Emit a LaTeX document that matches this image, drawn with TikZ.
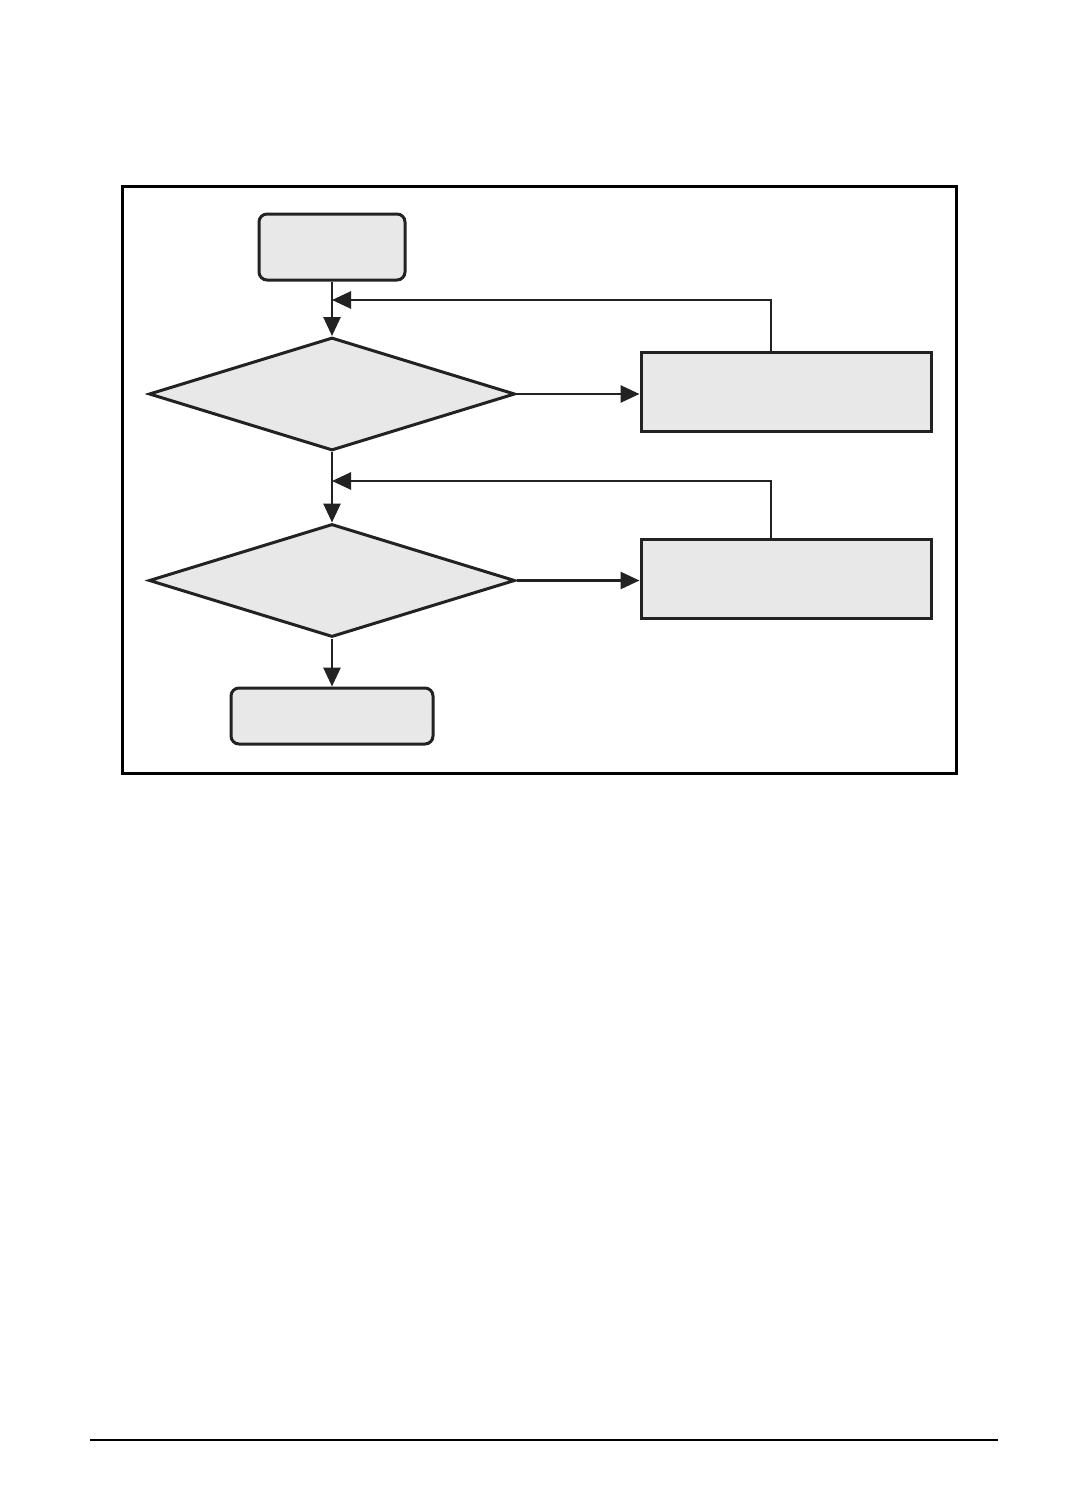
\documentclass[tikz,border=0pt]{standalone}
\usetikzlibrary{shapes.geometric,arrows.meta}
\definecolor{boxfill}{HTML}{E8E8E8}
\definecolor{ink}{HTML}{222222}
\begin{document}
\begin{tikzpicture}[x=1pt,y=-1pt,
  base/.style={draw=ink,fill=boxfill,line width=3pt,inner sep=0pt},
  roundbox/.style={base,rectangle,rounded corners=8pt},
  plainbox/.style={base,rectangle},
  decision/.style={base,diamond,aspect=3.24},
  arr/.style={draw=ink,line width=2.8pt,-{Triangle[length=19pt,width=17pt]}},
  ln/.style={draw=ink,line width=2.8pt}]
\useasboundingbox (0,0) rectangle (1080,1512);
\node[draw=black,line width=3pt,minimum width=834pt,minimum height=587pt,inner sep=0pt] (frame) at (539,479.5) {};
\node[roundbox,minimum width=146pt,minimum height=66pt] (start) at (332,247) {};
\node[decision,minimum width=366pt,minimum height=113pt] (d1) at (332,394) {};
\node[plainbox,minimum width=290pt,minimum height=79pt] (b1) at (786,391.5) {};
\node[decision,minimum width=366pt,minimum height=113pt] (d2) at (332,580.5) {};
\node[plainbox,minimum width=290pt,minimum height=79pt] (b2) at (786,578.5) {};
\node[roundbox,minimum width=202pt,minimum height=56pt] (end) at (332,716) {};
\coordinate (k1) at (771,300);
\coordinate (k2) at (771,481);
\draw[arr] (start.south) -- (d1.north);
\draw[arr] (d1.east) -- (d1.east -| b1.west);
\draw[arr] (k1 |- b1.north) -- (k1) -- (d1.north |- k1);
\draw[arr] (d1.south) -- (d2.north);
\draw[arr] (d2.east) -- (d2.east -| b2.west);
\draw[arr] (k2 |- b2.north) -- (k2) -- (d2.north |- k2);
\draw[arr] (d2.south) -- (end.north);
\coordinate (fl) at (90,1440);
\coordinate (fr) at (998,1440);
\draw[draw=black,line width=1.4pt] (fl) -- (fr);
\end{tikzpicture}
\end{document}
